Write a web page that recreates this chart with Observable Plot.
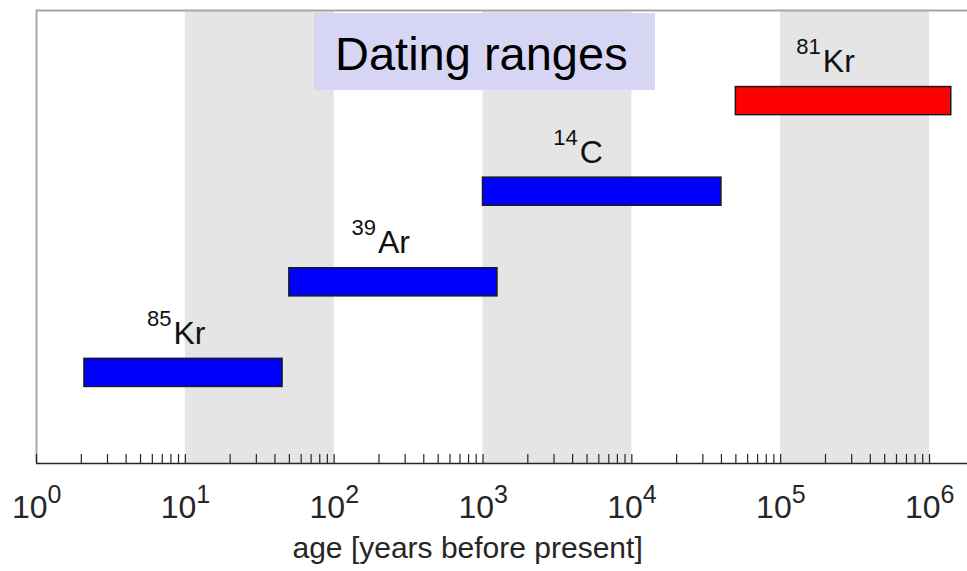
<!DOCTYPE html>
<html><head><meta charset="utf-8">
<script src="https://cdn.jsdelivr.net/npm/d3@7"></script>
<script src="https://cdn.jsdelivr.net/npm/@observablehq/plot@0.6"></script>
<style>
html,body{margin:0;padding:0;background:#fff;overflow:hidden;}
#wrap{position:relative;width:967px;height:571px;overflow:hidden;font-family:"Liberation Sans",Arial,Helvetica,sans-serif;}
#wrap svg{position:absolute;left:0;top:0;}
#title{position:absolute;left:314px;top:13px;width:341px;height:77px;background:#d6d6f4;color:#000;font-size:47px;line-height:81px;padding-left:21px;box-sizing:border-box;overflow:hidden;white-space:nowrap;}
</style>
</head><body>
<div id="wrap"><div id="title">Dating ranges</div></div>
<script>
// ---- data ----
const isotopes = ["85Kr", "39Ar", "14C", "81Kr"];
const massNumbers = ["85", "39", "14", "81"];
const elements = ["Kr", "Ar", "C", "Kr"];
const rangeStart = [2.1, 50, 1000, 50000];
const rangeEnd = [45, 1250, 40000, 1400000];
const rows = [1, 2, 3, 4];
const labelAt = [8.2, 194, 4400, 189000];
const barColors = ["#0000ff", "#0000ff", "#0000ff", "#ff0000"];
const decades = [1, 10, 100, 1000, 10000, 100000, 1000000];
const decadeExponents = ["0", "1", "2", "3", "4", "5", "6"];
const bandStart = [10, 1000, 100000];
const bandEnd = [100, 10000, 1000000];
const xMax = 1.8e6;
const minorMultipliers = [2, 3, 4, 5, 6, 7, 8, 9];
const axisTitle = "age [years before present]";

const allTicks = decades.flatMap(d => [d, ...minorMultipliers.map(m => m * d)]).filter(v => v <= xMax);
const bars = isotopes.map((name, i) => ({name, start: rangeStart[i], end: rangeEnd[i], row: rows[i], color: barColors[i], mass: massNumbers[i], el: elements[i], at: labelAt[i]}));
const bands = bandStart.map((s, i) => ({s, e: bandEnd[i]}));
const decadeData = decades.map((d, i) => ({d, exp: decadeExponents[i]}));

const ink = "#262626";
const W = 967, H = 571, mT = 10, mB = 108, tickLen = 9;
const chart = Plot.plot({
  width: W, height: H, marginTop: mT, marginLeft: 36, marginRight: 0, marginBottom: mB,
  style: {fontFamily: '"Liberation Sans", Arial, Helvetica, sans-serif', background: "transparent", overflow: "visible"},
  x: {type: "log", domain: [1, xMax], axis: null},
  y: {domain: [0, 5], axis: null},
  marks: [
    Plot.rect(bands, {x1: "s", x2: "e", fill: "#e5e5e5"}),
    Plot.ruleY([5], {stroke: "#a6a6a6", strokeWidth: 2}),
    Plot.ruleX([1], {stroke: "#a6a6a6", strokeWidth: 2}),
    Plot.rect(bars, {x1: "start", x2: "end", y1: d => d.row - 0.155, y2: d => d.row + 0.155, fill: "color", stroke: "#1a1a1a", strokeWidth: 1.5}),
    Plot.text(bars, {x: "at", y: "row", text: "el", textAnchor: "start", lineAnchor: "bottom", dx: 1, dy: -29, fontSize: 32, fill: "#111"}),
    Plot.text(bars, {x: "at", y: "row", text: "mass", textAnchor: "end", lineAnchor: "bottom", dx: -1, dy: -47, fontSize: 22, fill: "#111"}),
    Plot.tickX(allTicks, {x: d => d, insetTop: H - mT - mB - tickLen, stroke: ink, strokeWidth: 1.2}),
    Plot.ruleY([0], {stroke: ink, strokeWidth: 1.5}),
    Plot.text(decadeData, {x: "d", frameAnchor: "bottom", text: () => "10", textAnchor: "end", lineAnchor: "bottom", dx: 11, dy: 54, fontSize: 32, fill: ink}),
    Plot.text(decadeData, {x: "d", frameAnchor: "bottom", text: "exp", textAnchor: "start", lineAnchor: "bottom", dx: 11, dy: 39, fontSize: 25, fill: ink}),
    Plot.text([axisTitle], {frameAnchor: "bottom-left", text: d => d, textAnchor: "start", lineAnchor: "bottom", dx: 256, dy: 94, fontSize: 30, fill: ink})
  ]
});
const wrap = document.getElementById("wrap");
wrap.insertBefore(chart, wrap.firstChild);
</script>
</body></html>
